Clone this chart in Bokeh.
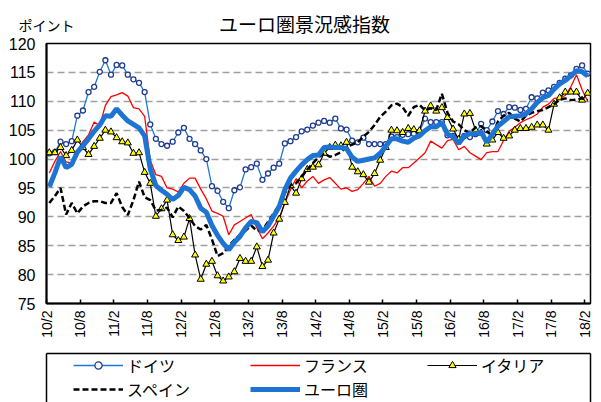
from math import pi
from bokeh.plotting import figure
from bokeh.layouts import column
from bokeh.models import (Range1d, FixedTicker, Legend, LegendItem, Label, LinearAxis)
from bokeh.embed import file_html
from bokeh.resources import INLINE

# ---- data (monthly, 2010/2 .. 2018/2) ----
tick_labels = ["10/2", "10/8", "11/2", "11/8", "12/2", "12/8", "13/2", "13/8", "14/2",
               "14/8", "15/2", "15/8", "16/2", "16/8", "17/2", "17/8", "18/2"]

germany = [101.0, 101.2, 103.0, 102.6, 103.1, 107.5, 108.4, 111.6, 112.5, 115.1,
           117.1, 114.6, 116.3, 116.2, 114.6, 113.8, 113.2, 111.6, 106.0, 103.5,
           102.6, 102.3, 103.0, 104.6, 105.4, 103.5, 102.6, 101.5, 100.0, 95.3,
           94.5, 92.6, 91.5, 94.6, 95.1, 98.2, 98.6, 99.2, 96.4, 97.5,
           98.5, 99.2, 102.7, 103.1, 103.8, 104.8, 105.1, 105.8, 106.3, 106.6,
           106.3, 107.0, 105.3, 105.1, 103.2, 102.9, 103.7, 102.6, 102.6, 102.6,
           102.6, 103.9, 103.8, 104.2, 104.3, 104.4, 104.7, 107.0, 106.4, 106.4,
           106.4, 104.1, 104.0, 103.5, 104.0, 103.8, 104.3, 106.1, 105.0, 106.5,
           108.3, 107.8, 109.0, 108.9, 108.5, 108.7, 110.7, 110.5, 111.5, 111.9,
           112.5, 113.2, 113.9, 114.5, 115.6, 116.2, 114.8]

france = [97.6, 99.6, 101.3, 99.5, 99.3, 101.5, 103.0, 104.2, 106.4, 105.8,
          109.3, 110.8, 111.1, 111.5, 110.9, 108.9, 108.7, 107.4, 99.8, 97.3,
          97.0, 95.0, 94.8, 94.3, 95.8, 96.7, 96.7, 94.8, 93.1, 91.0,
          90.6, 90.1, 86.9, 88.6, 89.2, 89.8, 90.4, 88.1, 86.2, 87.2,
          88.4, 89.8, 92.4, 94.7, 96.6, 95.0, 96.2, 97.0, 95.8, 96.4,
          96.8, 95.8, 94.8, 95.0, 94.4, 94.7, 95.8, 97.0, 95.3, 95.8,
          97.0, 97.9, 97.6, 98.5, 98.5, 99.3, 100.2, 101.1, 103.1, 102.5,
          101.9, 103.2, 103.4, 101.6, 102.2, 101.1, 100.5, 99.9, 101.1, 101.3,
          101.3, 103.2, 104.8, 105.5, 106.3, 106.8, 107.2, 107.8, 109.0, 109.5,
          110.5, 110.6, 111.0, 112.5, 114.6, 112.0, 110.0]

italy = [101.1, 101.1, 102.0, 100.6, 101.5, 103.3, 102.0, 100.8, 102.2, 103.6,
         105.0, 104.7, 103.7, 103.0, 102.8, 101.0, 101.1, 97.7, 95.8, 90.1,
         91.4, 92.9, 86.9, 85.9, 86.5, 89.7, 83.4, 79.2, 81.8, 82.3,
         79.8, 78.9, 79.6, 80.5, 82.8, 82.3, 82.3, 84.8, 81.4, 82.5,
         87.2, 89.6, 92.5, 95.4, 94.1, 96.6, 98.2, 98.6, 99.0, 101.0,
         102.0, 102.4, 102.3, 102.9, 98.6, 97.8, 97.3, 96.0, 97.5, 99.8,
         102.0, 105.0, 104.9, 104.6, 105.3, 105.1, 104.9, 108.3, 109.2, 108.3,
         108.9, 107.2, 105.2, 103.4, 107.8, 107.9, 105.0, 104.5, 102.6, 103.3,
         104.6, 103.6, 104.0, 105.0, 105.3, 105.3, 105.5, 105.9, 105.9, 105.0,
         109.5, 110.6, 111.6, 111.6, 111.6, 110.2, 111.4]

spain = [92.4, 93.6, 95.0, 90.4, 92.4, 90.6, 91.8, 92.4, 92.7, 92.7,
         92.4, 92.4, 94.1, 91.7, 90.3, 92.9, 96.1, 93.4, 92.9, 91.1,
         91.2, 91.6, 89.9, 91.8, 91.0, 89.8, 88.4, 87.8, 88.6, 86.1,
         83.2, 83.7, 84.9, 86.0, 86.9, 87.6, 88.5, 87.6, 87.7, 89.1,
         90.6, 92.1, 94.1, 95.5, 95.8, 97.0, 98.2, 99.3, 100.3, 101.0,
         100.4, 100.7, 101.2, 102.1, 102.5, 102.9, 103.9, 104.7, 105.9, 107.3,
         108.2, 109.3, 109.6, 109.0, 107.5, 109.0, 109.4, 108.4, 108.8, 108.5,
         111.3, 108.0, 106.5, 106.0, 105.0, 104.5, 105.5, 105.7, 104.8, 104.0,
         106.5, 107.5, 108.0, 107.0, 106.5, 107.5, 108.0, 108.3, 108.5, 109.0,
         109.5, 110.3, 110.5, 110.2, 110.3, 110.5, 110.2]

euro = [95.2, 97.6, 100.4, 98.5, 99.1, 101.2, 102.3, 103.5, 104.8, 105.9,
        107.5, 107.4, 108.7, 107.6, 106.6, 106.0, 105.4, 104.0, 98.3, 95.4,
        94.6, 93.9, 93.0, 93.7, 95.1, 94.7, 93.6, 91.5, 90.8, 88.5,
        86.8, 85.4, 84.3, 85.6, 86.6, 88.1, 89.2, 89.0, 87.4, 88.4,
        90.1, 91.8, 94.7, 96.7, 97.9, 99.0, 99.9, 100.6, 100.7, 102.0,
        102.1, 102.0, 102.0, 101.8, 100.3, 99.6, 99.8, 100.0, 100.2, 101.0,
        102.2, 103.5, 103.5, 103.1, 102.9, 103.6, 104.0, 104.9, 105.6, 105.6,
        106.3, 104.3, 103.9, 102.7, 104.0, 104.4, 104.4, 104.7, 102.9, 104.3,
        105.7, 106.5, 107.3, 107.4, 107.5, 107.8, 108.7, 109.8, 110.6, 111.0,
        112.1, 113.0, 113.6, 114.4, 115.3, 115.1, 114.4]

n = len(euro)
xs = [i + 0.5 for i in range(n)]  # category centres

JP = "Noto Sans CJK JP"
LAT = "Liberation Sans"

C_DE_LINE, C_DE_MARK = "#1F78D6", "#1F3A8F"
C_FR = "#FF0000"
C_EU = "#1E74D2"


def draw_series(fig):
    r = {}
    r["de_l"] = fig.line(xs, germany, line_color=C_DE_LINE, line_width=1.3)
    r["de_m"] = fig.scatter(xs, germany, marker="circle", size=5, fill_color="white",
                            line_color=C_DE_MARK, line_width=1.3)
    r["fr"] = fig.line(xs, france, line_color=C_FR, line_width=1.3)
    r["it_l"] = fig.line(xs, italy, line_color="black", line_width=1.2)
    r["it_m"] = fig.scatter(xs, italy, marker="triangle", size=7, fill_color="#FFFF00",
                            line_color="black", line_width=1)
    r["es"] = fig.line(xs, spain, line_color="black", line_width=2.5, line_dash="6 3")
    r["eu"] = fig.line(xs, euro, line_color=C_EU, line_width=5)
    return r


# ---------------- top strip (titles) ----------------
top = figure(width=601, height=36, output_backend="svg", toolbar_location=None,
             x_range=Range1d(0, 1), y_range=Range1d(0, 36),
             x_axis_location=None, y_axis_location="left",
             min_border_left=46, min_border_right=5, min_border_top=0,
             min_border_bottom=0, outline_line_color=None)
top.xgrid.visible = False
top.ygrid.visible = False
top.yaxis.ticker = FixedTicker(ticks=[12])
top.yaxis.major_label_overrides = {12: "ポイント"}
top.yaxis.major_label_standoff = -34
top.yaxis.major_tick_line_color = None
top.yaxis.minor_tick_line_color = None
top.yaxis.axis_line_color = None
top.yaxis.major_label_text_font = JP
top.yaxis.major_label_text_font_size = "14px"
top.yaxis.major_label_text_color = "black"
top.add_layout(Label(x=258, y=13, x_units="screen", y_units="screen",
                     text="ユーロ圏景況感指数", text_align="center",
                     text_baseline="middle", text_font=JP,
                     text_font_size="19px", text_color="black"))

# ---------------- main chart ----------------
p = figure(width=601, height=316, output_backend="svg", toolbar_location=None,
           x_range=Range1d(0, n), y_range=Range1d(75, 120),
           min_border_left=46, min_border_right=5, min_border_top=7,
           min_border_bottom=49, background_fill_color="white",
           border_fill_color="white")

p.outline_line_color = "black"
p.outline_line_width = 1.5
p.outline_line_alpha = 1

p.xaxis.ticker = FixedTicker(ticks=[6 * k for k in range(len(tick_labels))])
p.xaxis.major_label_overrides = {6 * k: t for k, t in enumerate(tick_labels)}
p.xaxis.major_label_orientation = pi / 2
p.xaxis.major_tick_in = 4
p.xaxis.major_tick_out = 0
p.xaxis.minor_tick_line_color = None
p.xaxis.major_label_text_font = LAT
p.xaxis.major_label_text_font_size = "14px"
p.xaxis.major_label_text_color = "black"
p.xaxis.major_label_standoff = 7
p.xaxis.axis_line_width = 2
p.xaxis.axis_line_color = "black"
p.xaxis.major_tick_line_color = "black"
p.xaxis.major_tick_line_width = 1.5

p.yaxis.ticker = FixedTicker(ticks=list(range(75, 121, 5)))
p.yaxis.major_tick_in = 0
p.yaxis.major_tick_out = 0
p.yaxis.minor_tick_line_color = None
p.yaxis.major_label_text_font = LAT
p.yaxis.major_label_text_font_size = "16px"
p.yaxis.major_label_text_color = "black"
p.yaxis.major_label_standoff = 11
p.yaxis.axis_line_width = 2
p.yaxis.axis_line_color = "black"

p.xgrid.visible = False
p.ygrid.grid_line_color = "#A0A0A0"
p.ygrid.grid_line_dash = "7 4"
p.ygrid.grid_line_width = 1.5

draw_series(p)

# ---------------- legend strip ----------------
leg = figure(width=601, height=50, output_backend="svg", toolbar_location=None,
             x_range=Range1d(0, 1), y_range=Range1d(0, 1),
             x_axis_location="above", y_axis_location="left",
             min_border_left=46, min_border_right=11, min_border_top=1,
             min_border_bottom=0, outline_line_color=None)
leg.xgrid.visible = False
leg.ygrid.visible = False
leg.add_layout(LinearAxis(), "right")
for ax in leg.axis:
    ax.ticker = FixedTicker(ticks=[])
    ax.major_tick_line_color = None
    ax.minor_tick_line_color = None
    ax.axis_line_color = "black"
    ax.axis_line_width = 1.5

# same series drawn here (outside the visible range) so the legend keys can be drawn
lr = draw_series(leg)

# Bokeh fills legend columns top-to-bottom, so order for a row-wise reading
legend = Legend(items=[
    LegendItem(label="ドイツ", renderers=[lr["de_l"], lr["de_m"]]),
    LegendItem(label="スペイン", renderers=[lr["es"]]),
    LegendItem(label="フランス", renderers=[lr["fr"]]),
    LegendItem(label="ユーロ圏", renderers=[lr["eu"]]),
    LegendItem(label="イタリア", renderers=[lr["it_l"], lr["it_m"]]),
], ncols=3, location=(27, 1), padding=0, spacing=0,
   glyph_width=50, glyph_height=18, label_height=18, label_width=123,
   label_standoff=4, label_text_font=JP, label_text_font_size="16px",
   label_text_color="black", border_line_alpha=0, background_fill_alpha=0)
leg.add_layout(legend, "center")

layout = column(top, p, leg, spacing=0)
open("out.html", "w").write(file_html(layout, INLINE))
